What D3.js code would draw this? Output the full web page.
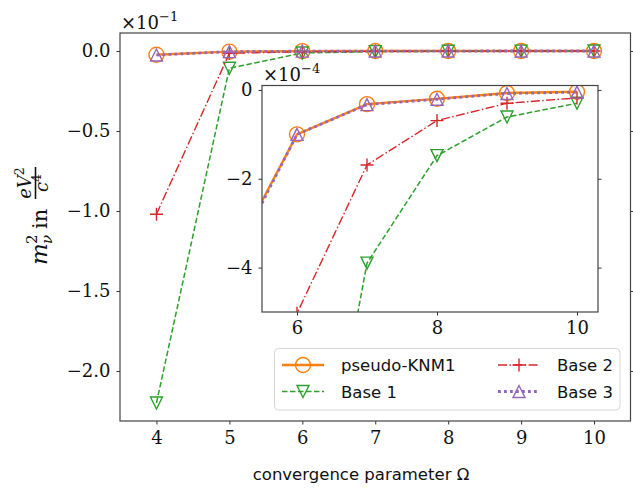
<!DOCTYPE html>
<html>
<head>
<meta charset="utf-8">
<script src="https://cdn.jsdelivr.net/npm/d3@7"></script>
<style>
  body { margin: 0; background: #fff; }
  svg { display: block; }
</style>
</head>
<body>
<div id="chart"></div>
<script>
// data, values in eV^2/c^4
const omega = [4, 5, 6, 7, 8, 9, 10];
const pseudoKNM1 = [-2.3e-3, -4.0e-4, -1.0e-4, -3.2e-5, -2.0e-5, -7e-6, -4e-6];
const base1 = [-0.220, -1.08e-2, -1.24e-3, -3.9e-4, -1.48e-4, -6.1e-5, -3.0e-5];
const base2 = [-0.102, -1.4e-3, -5.03e-4, -1.69e-4, -6.9e-5, -3.0e-5, -1.8e-5];
const base3 = [-2.5e-3, -4.1e-4, -1.0e-4, -3.3e-5, -2.1e-5, -8e-6, -5e-6];
const seriesNames = ["pseudo-KNM1", "Base 1", "Base 2", "Base 3"];
const mainYTicks = [0, -0.05, -0.1, -0.15, -0.2];
const mainXTicks = [4, 5, 6, 7, 8, 9, 10];
const insetYTicks = [0, -2e-4, -4e-4];
const insetXTicks = [6, 8, 10];

let width = 633;
let height = 490;

let svg = d3.select("#chart").append("svg")
  .attr("width", width)
  .attr("height", height)
  .style("font-family", "'DejaVu Serif', serif");

const styles = [
  { values: pseudoKNM1, color: "#ff7f0e", width: 2.4, dash: null, marker: "circle" },
  { values: base1, color: "#2ca02c", width: 1.5, dash: "5.5,2.5", marker: "tridown" },
  { values: base2, color: "#d62728", width: 1.4, dash: "9,2.4,1.5,2.4", marker: "plus" },
  { values: base3, color: "#9467bd", width: 2.8, dash: "2.8,3.2", marker: "triup" }
];

function markerPath(type) {
  var s = 6;
  if (type === "circle") return circlePath(7.5);
  if (type === "triup") return "M0," + (-s) + "L" + (-s) + "," + s + "L" + s + "," + s + "Z";
  if (type === "tridown") return "M0," + s + "L" + (-s) + "," + (-s) + "L" + s + "," + (-s) + "Z";
  if (type === "plus") return "M" + (-6.5) + ",0H6.5M0,-6.5V6.5";
}
function circlePath(r) {
  var p = d3.path();
  p.arc(0, 0, r, 0, 2 * Math.PI);
  p.closePath();
  return p.toString();
}

function minusFmt(str) { return str.replace("-", "\u2212"); }

// draw the series into a group with given scales
function drawSeries(g, x, y) {
  styles.forEach(function (st) {
    var pts = omega.map(function (o, i) { return [o, st.values[i]]; });
    var line = d3.line().x(function (d) { return x(d[0]); }).y(function (d) { return y(d[1]); });
    g.append("path")
      .attr("d", line(pts))
      .attr("fill", "none")
      .attr("stroke", st.color)
      .attr("stroke-width", st.width)
      .attr("stroke-dasharray", st.dash);
    g.selectAll(null)
      .data(pts)
      .enter()
      .append("path")
      .attr("transform", function (d) { return "translate(" + x(d[0]) + "," + y(d[1]) + ")"; })
      .attr("d", markerPath(st.marker))
      .attr("fill", "none")
      .attr("stroke", st.color)
      .attr("stroke-width", 1.4);
  });
}

// ---------- main axes ----------
const M = { left: 120, right: 630.5, top: 33, bottom: 421 };
var x = d3.scaleLinear().domain([3.5, 10.5]).range([M.left, M.right]);
var y = d3.scaleLinear().domain([-0.23125, 0.01125]).range([M.bottom, M.top]);

var mainG = svg.append("g");
drawSeries(mainG, x, y);

var xAxis = svg.append("g")
  .attr("transform", "translate(0," + M.bottom + ")")
  .call(d3.axisBottom(x).tickValues(mainXTicks).tickSize(3.5).tickPadding(7).tickFormat(d3.format("d")));
var yAxis = svg.append("g")
  .attr("transform", "translate(" + M.left + ",0)")
  .call(d3.axisLeft(y).tickValues(mainYTicks).tickSize(3.5).tickPadding(6)
    .tickFormat(function (d) { return minusFmt(d3.format(".1f")(d * 10 + 0)); }));
var yAxisR = svg.append("g")
  .attr("transform", "translate(" + M.right + ",0)")
  .call(d3.axisRight(y).tickValues(mainYTicks).tickSize(3.5).tickFormat(""));

[xAxis, yAxis, yAxisR].forEach(function (a) {
  a.select(".domain").remove();
  a.selectAll("line").attr("stroke", "#333").attr("stroke-width", 1);
  a.selectAll("text").attr("font-size", 18).attr("font-family", "'DejaVu Serif', serif").attr("fill", "#111");
});

svg.append("rect")
  .attr("x", M.left).attr("y", M.top)
  .attr("width", M.right - M.left).attr("height", M.bottom - M.top)
  .attr("fill", "none").attr("stroke", "#444").attr("stroke-width", 1.2);

// offset text
var off1 = svg.append("text").attr("x", 121).attr("y", 29).attr("font-size", 18).attr("fill", "#111");
off1.append("tspan").text("\u00d710");
off1.append("tspan").attr("dy", -8).attr("font-size", 13).text("\u22121");

// ---------- inset ----------
const I = { left: 262, right: 598, top: 85.5, bottom: 312 };
var xi = d3.scaleLinear().domain([5.5, 10.3]).range([I.left, I.right]);
var yi = d3.scaleLinear().domain([-5e-4, 0.1e-4]).range([I.bottom, I.top]);

svg.append("rect")
  .attr("x", I.left).attr("y", I.top)
  .attr("width", I.right - I.left).attr("height", I.bottom - I.top)
  .attr("fill", "#fff");

svg.append("clipPath").attr("id", "insetClip")
  .append("rect")
  .attr("x", I.left).attr("y", I.top)
  .attr("width", I.right - I.left).attr("height", I.bottom - I.top);

var insetG = svg.append("g").attr("clip-path", "url(#insetClip)");
drawSeries(insetG, xi, yi);

var xiAxis = svg.append("g")
  .attr("transform", "translate(0," + I.bottom + ")")
  .call(d3.axisBottom(xi).tickValues(insetXTicks).tickSize(3.5).tickPadding(6).tickFormat(d3.format("d")));
var yiAxis = svg.append("g")
  .attr("transform", "translate(" + I.left + ",0)")
  .call(d3.axisLeft(yi).tickValues(insetYTicks).tickSize(3.5).tickPadding(6)
    .tickFormat(function (d) { return minusFmt(d3.format("d")(Math.round(d * 1e4))); }));
var yiAxisR = svg.append("g")
  .attr("transform", "translate(" + I.right + ",0)")
  .call(d3.axisRight(yi).tickValues(insetYTicks).tickSize(3.5).tickFormat(""));

[xiAxis, yiAxis, yiAxisR].forEach(function (a) {
  a.select(".domain").remove();
  a.selectAll("line").attr("stroke", "#333").attr("stroke-width", 1);
  a.selectAll("text").attr("font-size", 18).attr("font-family", "'DejaVu Serif', serif").attr("fill", "#111");
});

svg.append("rect")
  .attr("x", I.left).attr("y", I.top)
  .attr("width", I.right - I.left).attr("height", I.bottom - I.top)
  .attr("fill", "none").attr("stroke", "#444").attr("stroke-width", 1.2);

var off4 = svg.append("text").attr("x", 263).attr("y", 81).attr("font-size", 18).attr("fill", "#111");
off4.append("tspan").text("\u00d710");
off4.append("tspan").attr("dy", -8).attr("font-size", 13).text("\u22124");

// ---------- legend ----------
var leg = svg.append("g");
leg.append("rect")
  .attr("x", 274.5).attr("y", 348.5).attr("width", 345.5).attr("height", 61.5)
  .attr("rx", 4)
  .attr("fill", "#fff").attr("fill-opacity", 0.8)
  .attr("stroke", "#d6d6d6").attr("stroke-width", 1);

var legPos = [[282, 365], [282, 391.5], [498, 365], [498, 391.5]];
styles.forEach(function (st, i) {
  var lx = legPos[i][0], ly = legPos[i][1];
  leg.append("line")
    .attr("x1", lx).attr("x2", lx + 42).attr("y1", ly).attr("y2", ly)
    .attr("stroke", st.color).attr("stroke-width", st.width)
    .attr("stroke-dasharray", st.dash);
  leg.append("path")
    .attr("transform", "translate(" + (lx + 21) + "," + ly + ")")
    .attr("d", markerPath(st.marker))
    .attr("fill", "none").attr("stroke", st.color).attr("stroke-width", 1.4);
  leg.append("text")
    .attr("x", lx + 59).attr("y", ly + 6)
    .attr("font-family", "'DejaVu Sans', sans-serif")
    .attr("font-size", 16.5)
    .attr("fill", "#111")
    .text(seriesNames[i]);
});

// ---------- axis labels ----------
svg.append("text")
  .attr("x", 361).attr("y", 480)
  .attr("text-anchor", "middle")
  .attr("font-family", "'DejaVu Sans', sans-serif")
  .attr("font-size", 16.5)
  .attr("fill", "#111")
  .text("convergence parameter \u03a9");

// y label: m_nu^2 in eV^2 / c^4, rotated
var yl = svg.append("g").attr("transform", "translate(47,265) rotate(-90)").attr("fill", "#111");
yl.append("text").attr("x", 0).attr("y", 0).attr("font-size", 23).attr("font-style", "italic").text("m");
yl.append("text").attr("x", 21).attr("y", -10).attr("font-size", 15).text("2");
yl.append("text").attr("x", 21).attr("y", 5).attr("font-size", 15).attr("font-style", "italic").text("\u03bd");
yl.append("text").attr("x", 36).attr("y", 0).attr("font-size", 21).text("in");
var num = yl.append("text").attr("x", 82).attr("y", -16).attr("font-size", 18).attr("text-anchor", "middle");
num.append("tspan").attr("font-style", "italic").text("eV");
num.append("tspan").attr("dy", -7).attr("font-size", 12.5).text("2");
yl.append("line").attr("x1", 66).attr("x2", 98).attr("y1", -11.5).attr("y2", -11.5)
  .attr("stroke", "#111").attr("stroke-width", 1.6);
var den = yl.append("text").attr("x", 82).attr("y", 1).attr("font-size", 18).attr("text-anchor", "middle");
den.append("tspan").attr("font-style", "italic").text("c");
den.append("tspan").attr("dy", -7).attr("font-size", 12.5).text("4");
</script>
</body>
</html>
